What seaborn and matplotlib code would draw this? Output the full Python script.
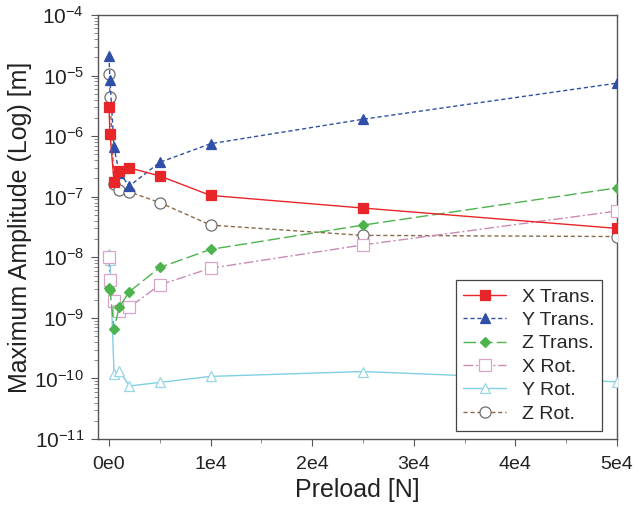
import numpy as np
import pandas as pd
import matplotlib
matplotlib.use("Agg")
import matplotlib.pyplot as plt
import matplotlib.ticker as mticker
import seaborn as sns

# ---------------- data ----------------
preload = [0, 100, 500, 1000, 2000, 5000, 10000, 25000, 50000]
x_trans = [3.0e-6, 1.1e-6, 1.75e-7, 2.7e-7, 3.0e-7, 2.2e-7, 1.05e-7, 6.5e-8, 3.0e-8]
y_trans = [2.1e-5, 8.5e-6, 6.5e-7, 2.5e-7, 1.5e-7, 3.7e-7, 7.5e-7, 1.9e-6, 7.5e-6]
z_trans = [3.1e-9, 2.9e-9, 6.5e-10, 1.5e-9, 2.7e-9, 6.8e-9, 1.35e-8, 3.4e-8, 1.4e-7]
x_rot = [1.0e-8, 4.2e-9, 1.9e-9, 1.3e-9, 1.5e-9, 3.5e-9, 6.6e-9, 1.6e-8, 5.8e-8]
y_rot = [1.15e-8, 9.0e-9, 1.2e-10, 1.35e-10, 7.5e-11, 8.6e-11, 1.08e-10, 1.3e-10, 8.8e-11]
z_rot = [1.05e-5, 4.5e-6, 1.6e-7, 1.3e-7, 1.2e-7, 8.0e-8, 3.4e-8, 2.3e-8, 2.2e-8]
series_names = ["X Trans.", "Y Trans.", "Z Trans.", "X Rot.", "Y Rot.", "Z Rot."]
x_tick_values = [0, 10000, 20000, 30000, 40000, 50000]
x_tick_labels = ["0e0", "1e4", "2e4", "3e4", "4e4", "5e4"]
y_tick_exponents = [-11, -10, -9, -8, -7, -6, -5, -4]
x_label = "Preload [N]"
y_label = "Maximum Amplitude (Log) [m]"

series_values = [x_trans, y_trans, z_trans, x_rot, y_rot, z_rot]
df = pd.concat(
    [pd.DataFrame({"Preload": preload, "Amplitude": v, "Series": n})
     for n, v in zip(series_names, series_values)],
    ignore_index=True,
)

# ---------------- style ----------------
sns.set_theme(style="white")
plt.rcParams["font.family"] = ["Liberation Sans", "DejaVu Sans"]
plt.rcParams["mathtext.default"] = "regular"

styles = {
    "X Trans.": dict(color="#e8262a", linestyle="-", marker="s", markersize=7,
                     markerfacecolor="#e8262a", markeredgecolor="#e8262a", zorder=8),
    "Y Trans.": dict(color="#2f4fa8", linestyle=(0, (3, 2)), marker="^", markersize=6.5,
                     markerfacecolor="#2f4fa8", markeredgecolor="#2f4fa8", zorder=7),
    "Z Trans.": dict(color="#4db34d", linestyle=(0, (9, 3)), marker="D", markersize=5,
                     markerfacecolor="#4db34d", markeredgecolor="#4db34d", zorder=6),
    "X Rot.": dict(color="#c98ab6", linestyle=(0, (7, 2, 1.5, 2)), marker="s", markersize=8,
                   markerfacecolor="white", markeredgecolor="#d8a4cc", zorder=5),
    "Y Rot.": dict(color="#7fd0e3", linestyle="-", marker="^", markersize=7.5,
                   markerfacecolor="white", markeredgecolor="#98d6e6", zorder=4),
    "Z Rot.": dict(color="#8a6a4a", linestyle=(0, (3, 2)), marker="o", markersize=8,
                   markerfacecolor="white", markeredgecolor="#6e6e6e", zorder=3),
}

fig = plt.figure(figsize=(6.44, 5.08), dpi=100)
ax = fig.add_axes([98 / 644, 1 - 439 / 508, (617 - 98) / 644, (439 - 15) / 508])

for name in series_names:
    sub = df[df["Series"] == name]
    st = styles[name]
    sns.lineplot(data=sub, x="Preload", y="Amplitude", ax=ax, label=name,
                 linewidth=1.0, markeredgewidth=0.9, sort=False, **st)

ax.set_yscale("log")
ax.set_ylim(1e-11, 1e-4)
ax.set_xlim(-1080, 50000)

y_ticks = [10.0 ** e for e in y_tick_exponents]
ax.yaxis.set_major_locator(mticker.FixedLocator(y_ticks))
ax.yaxis.set_major_formatter(mticker.LogFormatterSciNotation())
minor_ticks = [m * t for t in y_ticks[:-1] for m in range(2, 10)]
ax.yaxis.set_minor_locator(mticker.FixedLocator(minor_ticks))
ax.yaxis.set_minor_formatter(mticker.NullFormatter())
ax.set_xticks(x_tick_values)
ax.set_xticklabels(x_tick_labels)
ax.xaxis.set_minor_locator(mticker.FixedLocator([5000, 15000, 25000, 35000, 45000]))
ax.xaxis.set_minor_formatter(mticker.NullFormatter())

ax.tick_params(axis="both", which="major", direction="out", length=5, width=0.8,
               color="#555555", labelcolor="#222222", bottom=True, left=True)
ax.tick_params(axis="x", which="major", labelsize=14, pad=7)
ax.tick_params(axis="y", which="major", labelsize=15, pad=5)
ax.tick_params(axis="both", which="minor", direction="out", length=3, width=0.6,
               color="#777777", bottom=True, left=True)
for sp in ax.spines.values():
    sp.set_visible(True)
    sp.set_color("#555555")
    sp.set_linewidth(1.0)

ax.set_xlabel(x_label, fontsize=18, color="#222222", labelpad=4)
ax.set_ylabel(y_label, fontsize=18, color="#222222", labelpad=2)

handles, labels = ax.get_legend_handles_labels()
order = [labels.index(n) for n in series_names]
leg = ax.legend([handles[i] for i in order], [labels[i] for i in order],
                loc="lower right", bbox_to_anchor=(0.972, 0.02), borderaxespad=0,
                fontsize=14, frameon=True, fancybox=False, framealpha=1,
                edgecolor="#444444", labelspacing=0.3, handlelength=2.2,
                handletextpad=0.8, borderpad=0.4, numpoints=1)
leg.get_frame().set_linewidth(0.9)

fig.savefig("out.png", dpi=100)
